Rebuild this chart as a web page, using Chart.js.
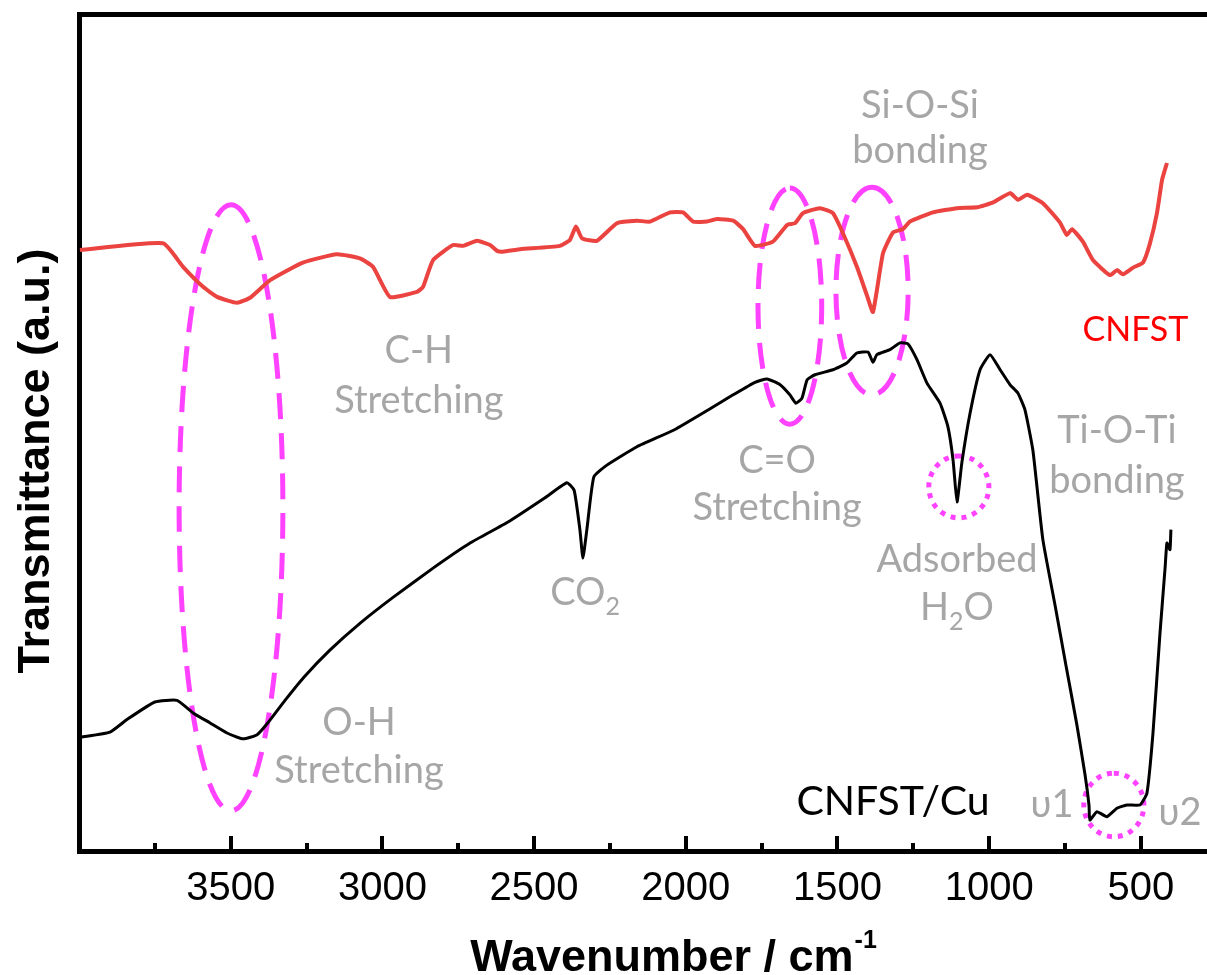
<!DOCTYPE html>
<html>
<head>
<meta charset="utf-8">
<script src="https://cdn.jsdelivr.net/npm/chart.js@4.4.0/dist/chart.umd.min.js"></script>
<style>
  html, body { margin: 0; padding: 0; background: #fff; overflow: hidden; }
  #wrap { width: 1207px; height: 975px; }
</style>
</head>
<body>
<div id="wrap"><canvas id="ftir" width="1207" height="975"></canvas></div>
<script>
// FTIR spectra, wavenumber in cm-1, transmittance in arbitrary units (offset)
const cnfstWavenumber = [3997, 3723, 3657, 3591, 3545, 3479, 3436, 3370, 3262, 3150, 3074, 3031, 2975, 2886, 2866, 2833,
  2767, 2734, 2688, 2645, 2622, 2603, 2546, 2415, 2382, 2362, 2342, 2293, 2227, 2161, 2118, 2052, 2009, 1976, 1930,
  1897, 1844, 1811, 1772, 1713, 1666, 1640, 1614, 1558, 1515, 1482, 1436, 1403, 1383, 1350, 1317, 1284, 1261, 1185,
  1106, 1040, 987, 931, 905, 875, 823, 767, 744, 727, 691, 658, 602, 579, 559, 526, 493, 470, 447, 430, 414];
const cnfstT = [71.8, 72.6, 69.8, 67.4, 66.2, 65.5, 66.1, 68.2, 70.3, 71.3, 70.8, 69.8, 66.2, 66.8, 67.4, 70.6,
  72.4, 72.3, 72.9, 72.4, 71.7, 71.6, 71.9, 72.3, 73.0, 74.6, 73.2, 72.9, 75.0, 75.3, 75.2, 76.3, 76.3, 75.2, 75.2,
  75.5, 75.3, 74.3, 72.3, 72.8, 74.8, 75.0, 76.2, 76.8, 76.2, 73.8, 69.8, 66.4, 64.4, 71.4, 73.9, 74.3, 75.2, 76.3,
  76.8, 76.9, 77.5, 78.6, 77.8, 78.4, 77.4, 75.1, 73.6, 74.3, 72.8, 70.6, 68.8, 69.4, 68.9, 69.7, 70.3, 72.6, 76.2, 80.2, 82.2];

const cuWavenumber = [3993, 3898, 3842, 3750, 3677, 3624, 3568, 3512, 3459, 3413, 3380, 3321, 3258, 3173, 3074, 2965,
  2833, 2711, 2586, 2464, 2392, 2368, 2349, 2339, 2326, 2303, 2260, 2161, 2039, 1917, 1844, 1772, 1732, 1689, 1657,
  1637, 1617, 1600, 1574, 1515, 1469, 1436, 1399, 1383, 1370, 1327, 1294, 1268, 1238, 1205, 1162, 1136, 1119, 1106,
  1090, 1063, 1030, 997, 964, 931, 905, 882, 856, 823, 783, 747, 711, 684, 671, 668, 645, 612, 579, 546, 503, 480, 460,
  437, 420, 414, 404, 401];
const cuT = [13.6, 14.2, 15.7, 17.8, 18.0, 16.5, 15.3, 14.1, 13.4, 13.9, 15.2, 18.0, 20.8, 24.0, 27.2, 30.3,
  33.8, 36.8, 39.3, 42.2, 44.0, 43.1, 38.4, 35.0, 38.4, 44.7, 46.1, 48.3, 50.3, 52.9, 54.5, 56.0, 56.4, 55.7, 54.5,
  53.5, 54.1, 56.3, 56.9, 57.5, 58.3, 59.5, 59.6, 58.4, 59.3, 59.9, 60.7, 60.6, 58.7, 55.9, 53.5, 50.7, 46.7, 41.7,
  46.4, 52.3, 57.5, 59.3, 57.5, 55.7, 54.7, 52.7, 47.9, 37.2, 29.4, 22.2, 15.1, 9.1, 5.5, 3.7, 4.7, 4.1, 5.1, 5.5, 5.5, 6.9,
  14.1, 26.0, 33.9, 36.8, 36.0, 38.4];

const majorTicks = [3500, 3000, 2500, 2000, 1500, 1000, 500];
const minorTicks = [3750, 3250, 2750, 2250, 1750, 1250, 750];

// band assignments: text lines anchored at (wavenumber, transmittance) baselines
const bandLabels = [
  { text: 'C-H', wn: 2880, t: 58.3 }, { text: 'Stretching', wn: 2880, t: 52.3 },
  { text: 'O-H', wn: 3077, t: 13.9 }, { text: 'Stretching', wn: 3077, t: 8.1 },
  { text: 'CO_2', wn: 2332, t: 29.4 },
  { text: 'C=O', wn: 1699, t: 45.2 }, { text: 'Stretching', wn: 1699, t: 39.5 },
  { text: 'Si-O-Si', wn: 1228, t: 87.6 }, { text: 'bonding', wn: 1228, t: 82.2 },
  { text: 'Adsorbed', wn: 1106, t: 33.3 }, { text: 'H_2O', wn: 1106, t: 27.6 },
  { text: 'Ti-O-Ti', wn: 579, t: 48.7 }, { text: 'bonding', wn: 579, t: 42.8 },
  { text: 'υ1', wn: 793, t: 4.1 }, { text: 'υ2', wn: 371, t: 3.1 }
];
const seriesLabels = [
  { text: 'CNFST', wn: 518, t: 60.9, color: '#ff0000', size: 34 },
  { text: 'CNFST/Cu', wn: 1317, t: 4.3, color: '#000000', size: 41 }
];
// highlighted regions: centre and half-axes in data units
const rings = [
  { wn: 3499, t: 41.0, dwn: 171, dt: 36.2, dotted: false },
  { wn: 1657, t: 65.1, dwn: 105, dt: 14.1, dotted: false },
  { wn: 1386, t: 66.9, dwn: 119, dt: 12.4, dotted: false },
  { wn: 1100, t: 43.5, dwn: 99, dt: 3.7, dotted: true },
  { wn: 589, t: 5.5, dwn: 99, dt: 3.8, dotted: true }
];

const GRAY = '#a6a6a6';
const MAGENTA = '#ff42ff';
const LABEL_FONT = 'Lato';
const AXIS_FONT = '"Liberation Sans", Arial, sans-serif';

function toPoints(xs, ys) {
  return xs.map((v, i) => ({ x: v, y: ys[i] }));
}

// draws text centred on cx; "_" marks the next character as a subscript
function drawRich(ctx, text, cx, by, size) {
  const parts = [];
  text.split('_').forEach((chunk, i) => {
    if (i === 0) { parts.push({ t: chunk, sub: false }); return; }
    parts.push({ t: chunk[0], sub: true });
    if (chunk.length > 1) parts.push({ t: chunk.slice(1), sub: false });
  });
  const big = size + 'px ' + LABEL_FONT;
  const small = Math.round(size * 0.65) + 'px ' + LABEL_FONT;
  let w = 0;
  parts.forEach(p => { ctx.font = p.sub ? small : big; p.w = ctx.measureText(p.t).width; w += p.w; });
  let px = cx - w / 2;
  parts.forEach(p => {
    ctx.font = p.sub ? small : big;
    ctx.fillText(p.t, px, by + (p.sub ? size * 0.27 : 0));
    px += p.w;
  });
}

const overlay = {
  id: 'overlay',
  beforeDatasetsDraw(chart) {
    const { ctx, scales: { x, y } } = chart;
    ctx.save();
    ctx.strokeStyle = MAGENTA;
    ctx.lineWidth = 5;
    rings.forEach(r => {
      const cx = x.getPixelForValue(r.wn), cy = y.getPixelForValue(r.t);
      const rx = Math.abs(x.getPixelForValue(r.wn + r.dwn) - cx);
      const ry = Math.abs(y.getPixelForValue(r.t + r.dt) - cy);
      ctx.setLineDash(r.dotted ? [5, 6] : [26, 14]);
      ctx.beginPath();
      ctx.ellipse(cx, cy, rx, ry, 0, -Math.PI / 2, Math.PI * 1.5);
      ctx.stroke();
    });
    ctx.restore();
  },
  afterDraw(chart) {
    const { ctx, chartArea, scales: { x, y } } = chart;
    ctx.save();

    // inward tick marks on the wavenumber axis
    ctx.fillStyle = '#000';
    const base = chartArea.bottom - 2;
    majorTicks.forEach(v => ctx.fillRect(Math.round(x.getPixelForValue(v)) - 2, base - 13, 4, 13));
    minorTicks.forEach(v => ctx.fillRect(Math.round(x.getPixelForValue(v)) - 2, base - 6, 4, 6));

    // band labels
    ctx.textBaseline = 'alphabetic';
    ctx.textAlign = 'left';
    ctx.fillStyle = GRAY;
    bandLabels.forEach(l => drawRich(ctx, l.text, x.getPixelForValue(l.wn), y.getPixelForValue(l.t), 38));
    seriesLabels.forEach(l => {
      ctx.fillStyle = l.color;
      drawRich(ctx, l.text, x.getPixelForValue(l.wn), y.getPixelForValue(l.t), l.size);
    });

    // y axis title
    ctx.fillStyle = '#000';
    ctx.font = 'bold 45px ' + AXIS_FONT;
    ctx.save();
    ctx.translate(49, 461);
    ctx.rotate(-Math.PI / 2);
    ctx.textAlign = 'center';
    ctx.fillText('Transmittance (a.u.)', 0, 0);
    ctx.restore();

    // x axis title with superscript
    const main = 'Wavenumber / cm', sup = '-1';
    ctx.font = 'bold 45px ' + AXIS_FONT;
    const wMain = ctx.measureText(main).width;
    ctx.font = 'bold 25px ' + AXIS_FONT;
    const wSup = ctx.measureText(sup).width;
    const left = 673 - (wMain + wSup) / 2;
    ctx.font = 'bold 45px ' + AXIS_FONT;
    ctx.fillText(main, left, 971);
    ctx.font = 'bold 25px ' + AXIS_FONT;
    ctx.fillText(sup, left + wMain + 1, 948);
    ctx.restore();
  }
};

new Chart(document.getElementById('ftir'), {
  type: 'line',
  data: {
    datasets: [
      {
        label: 'CNFST',
        data: toPoints(cnfstWavenumber, cnfstT),
        borderColor: '#ea4340',
        borderWidth: 4,
        pointRadius: 0,
        tension: 0.15
      },
      {
        label: 'CNFST/Cu',
        data: toPoints(cuWavenumber, cuT),
        borderColor: '#000000',
        borderWidth: 3,
        pointRadius: 0,
        tension: 0.15
      }
    ]
  },
  options: {
    responsive: false,
    animation: false,
    devicePixelRatio: 1,
    layout: { padding: 0 },
    plugins: { legend: { display: false }, tooltip: { enabled: false } },
    scales: {
      x: {
        type: 'linear',
        position: 'bottom',
        reverse: true,
        min: 282,
        max: 4000,
        bounds: 'data',
        grid: { display: false, drawTicks: false },
        border: { display: true, color: '#000', width: 5 },
        afterBuildTicks: s => { s.ticks = majorTicks.map(v => ({ value: v })); },
        afterFit: s => { s.height = 124; },
        ticks: {
          autoSkip: false,
          maxRotation: 0,
          padding: 14,
          color: '#000',
          font: { family: 'Liberation Sans', size: 40 },
          callback: v => String(v)
        }
      },
      xTop: {
        type: 'linear',
        position: 'top',
        min: 282,
        max: 4000,
        grid: { display: false, drawTicks: false },
        border: { display: true, color: '#000', width: 5 },
        ticks: { display: false },
        afterFit: s => { s.height = 14; }
      },
      y: {
        type: 'linear',
        min: 0,
        max: 100,
        grid: { display: false, drawTicks: false },
        border: { display: true, color: '#000', width: 5 },
        ticks: { display: false },
        afterFit: s => { s.width = 79; }
      }
    }
  },
  plugins: [overlay]
});
</script>
</body>
</html>
